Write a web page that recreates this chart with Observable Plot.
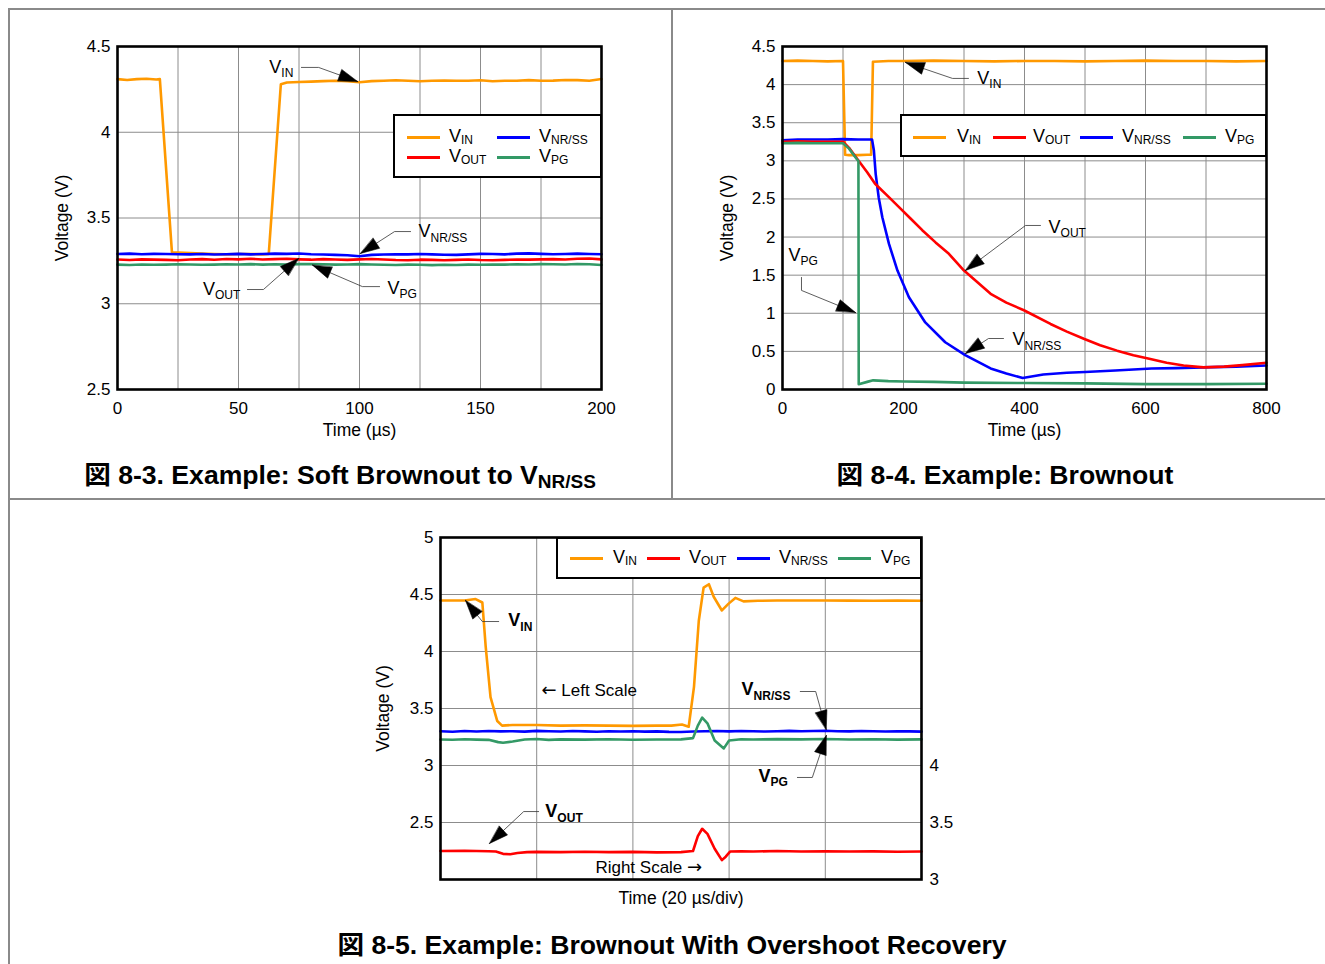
<!DOCTYPE html>
<html><head><meta charset="utf-8">
<script src="https://cdn.jsdelivr.net/npm/d3@7"></script>
<script src="https://cdn.jsdelivr.net/npm/@observablehq/plot@0.6"></script>
<style>
body{margin:0;background:#fff;width:1325px;height:964px;position:relative;overflow:hidden;font-family:"Liberation Sans",Arial,Helvetica,"Noto Sans CJK JP",sans-serif;color:#000;}
.panel{position:absolute;width:670px;height:450px;}
.panel svg{max-width:none !important;}
.legend{position:absolute;background:#fff;border:2.5px solid #000;box-sizing:border-box;}
.sw{position:absolute;height:3px;width:33px;}
.lt{position:absolute;font-size:18px;line-height:20px;white-space:nowrap;}
.lt sub{font-size:12px;vertical-align:-0.2em;line-height:0;}
.title{position:absolute;font-weight:bold;font-size:26.6px;white-space:nowrap;transform:translate(-50%,-50%);font-family:"Liberation Sans",Arial,"Noto Sans CJK JP",sans-serif;}
.title sub{font-size:19px;vertical-align:-0.25em;line-height:0;}
.rule{position:absolute;background:#8a8a8a;}
</style></head><body>
<div class="rule" style="left:8px;top:8px;width:1317px;height:1.5px"></div>
<div class="rule" style="left:8px;top:8px;width:1.5px;height:956px"></div>
<div class="rule" style="left:671px;top:8px;width:1.5px;height:491px"></div>
<div class="rule" style="left:8px;top:498px;width:1317px;height:1.5px"></div>
<div id="p1" class="panel" style="left:0px;top:0px"></div>
<div id="p2" class="panel" style="left:665px;top:0px"></div>
<div id="p3" class="panel" style="left:323px;top:491px"></div>
<script>
// ---------- names & colours ----------
const seriesKeys = ["vin", "vnr", "vout", "vpg"];
const seriesNames = {vin: ["V", "IN"], vout: ["V", "OUT"], vnr: ["V", "NR/SS"], vpg: ["V", "PG"]};
const seriesColors = {vin: "#ff9900", vout: "#ff0000", vnr: "#0000ff", vpg: "#339966"};

// ---------- Figure 8-3 (0..200 us) ----------
const p1TimeVin = [0,4,8,12,16,17.5,22.5,25,30,35,40,45,50,55,60,62.5,67.5,70,75,80,85,90,95,100,105,110,115,120,125,130,135,140,145,150,155,160,165,170,175,180,185,190,195,200];
const p1Vin = [4.31,4.305,4.31,4.312,4.308,4.31,3.30,3.298,3.295,3.292,3.29,3.288,3.29,3.29,3.288,3.29,4.28,4.29,4.293,4.295,4.298,4.30,4.297,4.292,4.298,4.30,4.303,4.30,4.297,4.30,4.302,4.30,4.30,4.303,4.297,4.30,4.30,4.304,4.30,4.301,4.305,4.304,4.30,4.31];
const p1Time = [0,5,10,15,20,25,30,35,40,45,50,55,60,65,70,75,80,85,90,95,100,105,110,115,120,125,130,135,140,145,150,155,160,165,170,175,180,185,190,195,200];
const p1Vnr = [3.290,3.292,3.289,3.291,3.290,3.289,3.288,3.290,3.287,3.289,3.291,3.288,3.290,3.292,3.291,3.293,3.289,3.287,3.285,3.283,3.277,3.285,3.287,3.289,3.288,3.290,3.288,3.286,3.285,3.288,3.291,3.290,3.288,3.292,3.294,3.291,3.289,3.290,3.292,3.290,3.289];
const p1Vout = [3.258,3.255,3.259,3.257,3.256,3.254,3.258,3.260,3.257,3.261,3.259,3.262,3.258,3.260,3.262,3.259,3.257,3.260,3.258,3.256,3.259,3.261,3.258,3.255,3.254,3.257,3.256,3.254,3.256,3.258,3.255,3.254,3.256,3.258,3.257,3.259,3.260,3.258,3.262,3.264,3.259];
const p1Vpg = [3.228,3.226,3.229,3.227,3.228,3.230,3.229,3.227,3.228,3.230,3.229,3.231,3.228,3.230,3.229,3.231,3.232,3.230,3.228,3.229,3.231,3.229,3.227,3.226,3.228,3.227,3.225,3.227,3.226,3.228,3.227,3.229,3.228,3.230,3.229,3.231,3.230,3.229,3.232,3.230,3.226];
const p1TicksX = [0,50,100,150,200];
const p1GridX = [25,50,75,100,125,150,175];
const p1TicksY = [2.5,3,3.5,4,4.5];
const p1Ann = [
  {label:"V|IN", lx:72.7, ly:4.382, anchor:"end", path:[[76.0,4.378],[83.1,4.378],[99.2,4.296]]},
  {label:"V|NR/SS", lx:124.4, ly:3.420, anchor:"start", path:[[121.1,3.421],[114.5,3.421],[100.4,3.293]]},
  {label:"V|OUT", lx:50.8, ly:3.087, anchor:"end", path:[[53.7,3.083],[60.3,3.083],[74.8,3.264]]},
  {label:"V|PG", lx:111.6, ly:3.093, anchor:"start", path:[[108.3,3.10],[101.2,3.10],[80.6,3.225]]}
];

// ---------- Figure 8-4 (0..800 us) ----------
const p2TimeVin = [0,25,50,75,100,103.5,110,125,140,146.5,149.5,175,200,250,300,350,400,450,500,550,600,650,700,750,800];
const p2Vin = [4.31,4.315,4.31,4.305,4.31,3.08,3.075,3.075,3.08,3.08,4.30,4.31,4.31,4.315,4.31,4.305,4.31,4.31,4.305,4.31,4.315,4.31,4.31,4.305,4.31];
const p2TimeVnr = [0,25,50,75,100,125,140,148,151,154,159,165,176,190,209,236,269,302,344,370,397,431,470,500,550,610,650,694,750,800];
const p2Vnr = [3.27,3.28,3.28,3.28,3.285,3.28,3.28,3.28,3.14,2.83,2.52,2.26,1.91,1.56,1.21,0.88,0.62,0.45,0.276,0.21,0.15,0.197,0.22,0.23,0.25,0.275,0.28,0.29,0.30,0.315];
const p2TimeVout = [0,25,50,75,100,110,123,140,153,175,193,212,231,253,275,300,344,370,399,443,470,498,525,553,580,608,635,663,696,730,760,800];
const p2Vout = [3.25,3.255,3.25,3.25,3.25,3.17,3.03,2.85,2.70,2.53,2.39,2.24,2.09,1.93,1.78,1.56,1.256,1.14,1.04,0.86,0.76,0.665,0.58,0.51,0.45,0.40,0.35,0.315,0.29,0.30,0.32,0.35];
const p2TimeVpg = [0,25,50,75,100,110,123,125.5,126,140,150,175,200,250,300,400,500,600,700,800];
const p2Vpg = [3.23,3.235,3.23,3.23,3.23,3.16,3.02,3.0,0.07,0.10,0.12,0.11,0.105,0.10,0.09,0.085,0.08,0.07,0.07,0.075];
const p2TicksX = [0,200,400,600,800];
const p2GridX = [100,200,300,400,500,600,700];
const p2TicksY = [0,0.5,1,1.5,2,2.5,3,3.5,4,4.5];
const p2Ann = [
  {label:"V|IN", lx:322, ly:4.085, anchor:"start", path:[[307.4,4.081],[281,4.081],[203.3,4.291]]},
  {label:"V|OUT", lx:439.7, ly:2.135, anchor:"start", path:[[426.4,2.152],[401.7,2.152],[302.5,1.562]]},
  {label:"V|NR/SS", lx:380.2, ly:0.655, anchor:"start", path:[[365.3,0.669],[340.5,0.669],[302.5,0.472]]},
  {label:"V|PG", lx:9.9, ly:1.765, anchor:"start", path:[[31.4,1.47],[31.4,1.30],[120.7,1.01]]}
];

// ---------- Figure 8-5 (0..100 us, 20 us/div) ----------
const p3TimeVin = [0,3,5,7.3,8.7,9.4,10.4,11.8,12.8,15,20,25,30,35,40,45,48,50.2,51.6,52.7,53.7,54.7,55.8,56.8,58.5,59.9,61.3,63,66,70,75,80,85,90,95,100];
const p3Vin = [4.447,4.448,4.447,4.46,4.43,4.04,3.60,3.39,3.35,3.355,3.355,3.35,3.352,3.35,3.348,3.35,3.35,3.36,3.34,3.69,4.27,4.56,4.59,4.48,4.36,4.42,4.47,4.44,4.445,4.447,4.447,4.448,4.446,4.445,4.446,4.445];
const p3TimeVnr = [0,2.5,5,7.5,10,12.5,15,17.5,20,22.5,25,27.5,30,32.5,35,37.5,40,42.5,45,47.5,50,52.5,55,57.5,60,62.5,65,67.5,70,72.5,75,77.5,80,82.5,85,87.5,90,92.5,95,97.5,100];
const p3Vnr = [3.300,3.296,3.302,3.298,3.303,3.299,3.301,3.297,3.304,3.300,3.298,3.302,3.299,3.296,3.301,3.298,3.300,3.297,3.299,3.295,3.294,3.298,3.300,3.302,3.299,3.303,3.300,3.298,3.301,3.304,3.300,3.302,3.305,3.301,3.299,3.302,3.300,3.298,3.301,3.299,3.297];
const p3TimeVpg = [0,2.5,5,7.5,10,12,13,15,17.5,20,22.5,25,30,35,40,45,50,52.5,53.5,54.4,55.5,57,58.9,60,62.5,65,70,75,80,85,90,95,100];
const p3Vpg = [3.228,3.226,3.230,3.227,3.225,3.205,3.20,3.21,3.228,3.232,3.225,3.229,3.227,3.230,3.226,3.228,3.229,3.24,3.35,3.42,3.37,3.22,3.15,3.22,3.230,3.228,3.231,3.229,3.232,3.228,3.230,3.227,3.229];
// VOUT is read on the right-hand scale (right = left + 1 V)
const p3TimeVout = [0,5,10,11.5,13,14.5,16,18,20,25,30,35,40,45,50,52.5,53.5,54.4,55.5,57,58.5,59.3,60.2,62.5,65,70,75,80,85,90,95,100];
const p3VoutRight = [3.25,3.252,3.248,3.245,3.225,3.222,3.232,3.24,3.242,3.24,3.243,3.24,3.242,3.238,3.24,3.25,3.38,3.445,3.40,3.27,3.17,3.20,3.245,3.248,3.245,3.25,3.246,3.248,3.245,3.247,3.244,3.245];
const p3RightOffset = 1;
const p3GridX = [20,40,60,80];
const p3TicksY = [2.5,3,3.5,4,4.5,5];
const p3GridY = [2.5,3,3.5,4,4.5];
const p3TicksRight = [3,3.5,4];
const p3Ann = [
  {label:"V|IN", lx:14.1, ly:4.27, anchor:"start", path:[[12.1,4.263],[8.7,4.263],[5.2,4.447]]},
  {label:"V|NR/SS", lx:62.6, ly:3.665, anchor:"start", path:[[74.8,3.649],[78,3.649],[80.2,3.316]]},
  {label:"V|PG", lx:66.1, ly:2.91, anchor:"start", path:[[74.2,2.895],[77.3,2.895],[80.2,3.263]]},
  {label:"V|OUT", lx:21.8, ly:2.595, anchor:"start", path:[[20.4,2.596],[17.3,2.596],[10.2,2.316]]}
];
const p3Notes = [
  {label:"\u2190 Left Scale", lx:21.0, ly:3.658},
  {label:"Right Scale \u2192", lx:32.2, ly:2.105}
];

// ---------- helpers ----------
const FONT = '"Liberation Sans", Arial, Helvetica, sans-serif';
const rows = (times, values, key) => times.map((t, i) => ({t, v: values[i], key}));
const headShape = {draw(ctx, l, r) { ctx.moveTo(0, -l); ctx.lineTo(-r, 0); ctx.lineTo(r, 0); ctx.closePath(); }};
const fmt = d => String(d);

function annMarks(anns, kx, ky, bold) {
  const lines = [], heads = [];
  anns.forEach((a, k) => {
    a.path.forEach(([t, v]) => lines.push({k, t, v}));
    const [t0, v0] = a.path[a.path.length - 2], [t1, v1] = a.path[a.path.length - 1];
    const dx = (t1 - t0) * kx, dy = -(v1 - v0) * ky;
    heads.push({t: t1, v: v1, r: Math.atan2(dx, -dy) * 180 / Math.PI});
  });
  const common = {x: "lx", y: "ly", text: "label", fontSize: 18, fill: "#000", fontWeight: bold ? "bold" : "normal"};
  return [
    Plot.line(lines, {x: "t", y: "v", z: "k", stroke: "#333", strokeWidth: 0.8, curve: "linear"}),
    Plot.vector(heads, {x: "t", y: "v", rotate: "r", length: 19, r: 6, anchor: "end", shape: headShape, fill: "#000", stroke: "#000", strokeWidth: 0.5}),
    Plot.text(anns.filter(a => a.anchor === "start"), {...common, textAnchor: "start"}),
    Plot.text(anns.filter(a => a.anchor === "end"), {...common, textAnchor: "end"})
  ];
}

function applySubs(svg) {
  d3.select(svg).selectAll("text").each(function() {
    const s = this.textContent;
    const sel = d3.select(this);
    if (s.includes("|")) {
      const [main, sub] = s.split("|");
      this.textContent = "";
      sel.append("tspan").text(main);
      sel.append("tspan").attr("dy", "0.36em").attr("font-size", "0.67em").text(sub);
    } else if (/[\u2190\u2192]/.test(s)) {
      const parts = s.split(/([\u2190\u2192])/).filter(p => p !== "");
      this.textContent = "";
      parts.forEach(p => {
        const ts = sel.append("tspan").text(p);
        if (/[\u2190\u2192]/.test(p)) ts.attr("font-family", "DejaVu Sans").attr("font-size", "18px");
      });
    }
  });
}

function seriesLines(data) {
  return seriesKeys.filter(k => data[k]).map(k => Plot.line(data[k], {x: "t", y: "v", stroke: seriesColors[k], strokeWidth: 2.6, curve: "linear"}));
}

function makePlot(o) {
  const W = 670, H = 450;
  const iw = W - o.mL - o.mR, ih = H - o.mT - o.mB;
  const kx = iw / (o.xd[1] - o.xd[0]), ky = ih / (o.yd[1] - o.yd[0]);
  const marks = [
    Plot.gridX(o.gridX, {stroke: "#8c8c8c", strokeOpacity: 1, strokeWidth: 1}),
    Plot.gridY(o.gridY, {stroke: "#8c8c8c", strokeOpacity: 1, strokeWidth: 1}),
    ...seriesLines(o.data),
    Plot.frame({stroke: "#000", strokeWidth: 2.6}),
    Plot.axisY(o.ticksY, {tickSize: 0, tickPadding: 7, label: null, fontSize: 17, tickFormat: fmt}),
    Plot.text([o.xLabel], {frameAnchor: "bottom", dy: o.xLabelDy, text: d => d, fontSize: 17.5}),
    Plot.text(["Voltage (V)"], {frameAnchor: "left", dx: o.yLabelDx, rotate: -90, textAnchor: "middle", text: d => d, fontSize: 17.5}),
    ...annMarks(o.ann, kx, ky, o.bold)
  ];
  if (o.ticksX) marks.push(Plot.axisX(o.ticksX, {tickSize: 0, tickPadding: 12, label: null, fontSize: 17, tickFormat: fmt}));
  if (o.extra) marks.push(...o.extra);
  const svg = Plot.plot({
    width: W, height: H, marginLeft: o.mL, marginRight: o.mR, marginTop: o.mT, marginBottom: o.mB,
    style: {fontFamily: FONT, fontSize: "17px", color: "#000", background: "transparent", overflow: "visible", maxWidth: "none"},
    x: {domain: o.xd, axis: null}, y: {domain: o.yd, axis: null},
    marks
  });
  applySubs(svg);
  return svg;
}

// ---------- panels ----------
document.getElementById("p1").appendChild(makePlot({
  mL: 117, mR: 69, mT: 46, mB: 61, xd: [0, 200], yd: [2.5, 4.5],
  gridX: p1GridX, gridY: [3, 3.5, 4], ticksX: p1TicksX, ticksY: p1TicksY,
  xLabel: "Time (\u00b5s)", xLabelDy: 46, yLabelDx: -55,
  data: {vin: rows(p1TimeVin, p1Vin), vnr: rows(p1Time, p1Vnr), vout: rows(p1Time, p1Vout), vpg: rows(p1Time, p1Vpg)},
  ann: p1Ann, bold: false
}));

document.getElementById("p2").appendChild(makePlot({
  mL: 117, mR: 69, mT: 46, mB: 61, xd: [0, 800], yd: [0, 4.5],
  gridX: p2GridX, gridY: [0.5, 1, 1.5, 2, 2.5, 3, 3.5, 4], ticksX: p2TicksX, ticksY: p2TicksY,
  xLabel: "Time (\u00b5s)", xLabelDy: 46, yLabelDx: -55,
  data: {vin: rows(p2TimeVin, p2Vin), vnr: rows(p2TimeVnr, p2Vnr), vout: rows(p2TimeVout, p2Vout), vpg: rows(p2TimeVpg, p2Vpg)},
  ann: p2Ann, bold: false
}));

document.getElementById("p3").appendChild(makePlot({
  mL: 117, mR: 72, mT: 46, mB: 62, xd: [0, 100], yd: [2, 5],
  gridX: p3GridX, gridY: p3GridY, ticksX: null, ticksY: p3TicksY,
  xLabel: "Time (20 \u00b5s/div)", xLabelDy: 24, yLabelDx: -57,
  data: {vin: rows(p3TimeVin, p3Vin), vnr: rows(p3TimeVnr, p3Vnr), vout: rows(p3TimeVout, p3VoutRight.map(v => v - p3RightOffset)), vpg: rows(p3TimeVpg, p3Vpg)},
  ann: p3Ann, bold: true,
  extra: [
    Plot.axisY(p3TicksRight.map(v => v - p3RightOffset), {anchor: "right", tickSize: 0, tickPadding: 8, label: null, fontSize: 17, tickFormat: d => String(d + p3RightOffset)}),
    Plot.text(p3Notes, {x: "lx", y: "ly", text: "label", textAnchor: "start", fontSize: 17})
  ]
}));

// ---------- legends & titles (HTML) ----------
function legend(left, top, w, h, items) {
  const box = document.createElement("div");
  box.className = "legend";
  Object.assign(box.style, {left: left + "px", top: top + "px", width: w + "px", height: h + "px"});
  items.forEach(([key, sx, tx, cy]) => {
    const sw = document.createElement("div");
    sw.className = "sw";
    Object.assign(sw.style, {left: sx + "px", top: (cy - 1.5) + "px", background: seriesColors[key]});
    const t = document.createElement("div");
    t.className = "lt";
    Object.assign(t.style, {left: tx + "px", top: (cy - 11) + "px"});
    t.innerHTML = seriesNames[key][0] + "<sub>" + seriesNames[key][1] + "</sub>";
    box.appendChild(sw); box.appendChild(t);
  });
  document.body.appendChild(box);
}
legend(393, 114, 209, 64, [["vin", 12, 54, 21], ["vnr", 102, 144, 21], ["vout", 12, 54, 41], ["vpg", 102, 144, 41]]);
legend(900, 114, 367, 43, [["vin", 11, 55, 21], ["vout", 91, 131, 21], ["vnr", 178, 220, 21], ["vpg", 281, 323, 21]]);
legend(556, 537, 366, 42, [["vin", 12, 55, 19], ["vout", 89, 131, 19], ["vnr", 179, 221, 19], ["vpg", 280, 323, 19]]);

function title(cx, cy, html) {
  const d = document.createElement("div");
  d.className = "title";
  Object.assign(d.style, {left: cx + "px", top: cy + "px"});
  d.innerHTML = html;
  document.body.appendChild(d);
}
title(340, 472, "\u56f3 8-3. Example: Soft Brownout to V<sub>NR/SS</sub>");
title(1005, 472, "\u56f3 8-4. Example: Brownout");
title(672, 942, "\u56f3 8-5. Example: Brownout With Overshoot Recovery");
</script>
</body></html>
